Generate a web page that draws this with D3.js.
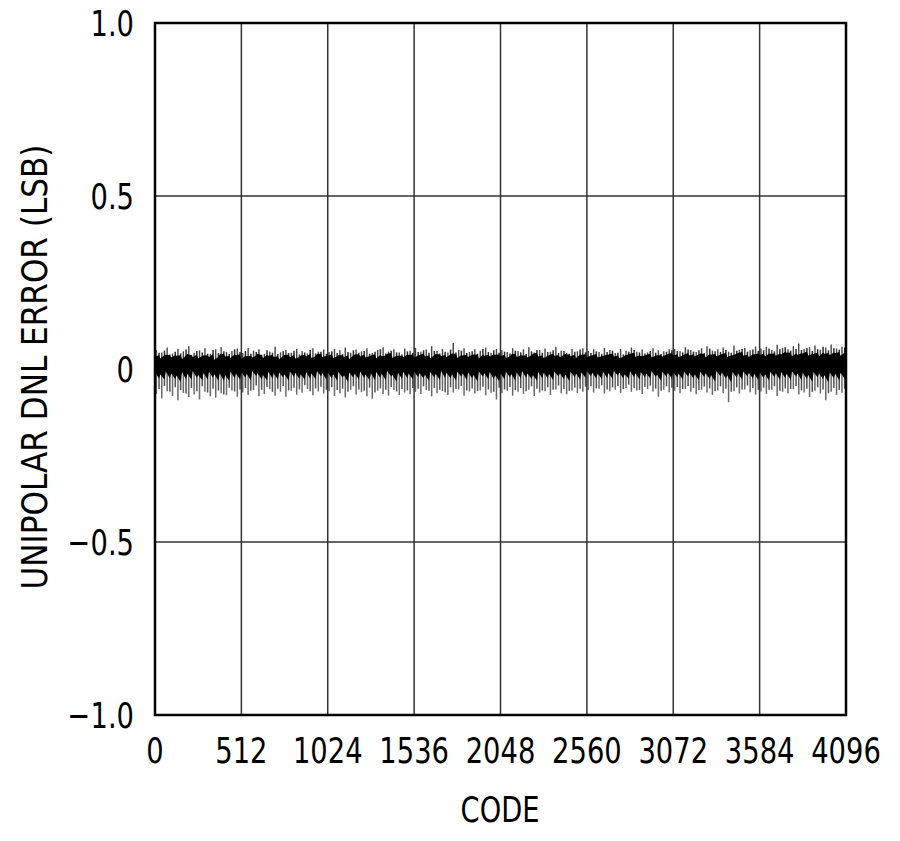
<!DOCTYPE html>
<html><head><meta charset="utf-8">
<script src="https://cdnjs.cloudflare.com/ajax/libs/d3/7.8.5/d3.min.js"></script>
<style>body{margin:0;background:#fff}svg{display:block}</style>
</head><body>
<script>
// X ticks (codes) and Y ticks (LSB)
const xTicks = [0,512,1024,1536,2048,2560,3072,3584,4096];
const yTicks = [-1.0,-0.5,0,0.5,1.0];
const yTickLabels = ["\u22121.0","\u22120.5","0","0.5","1.0"];
const binSize = 32;
// Envelope of DNL error, one value per 32-code bin
const dnlHigh = [
0.055,0.048,0.062,0.045,0.058,0.051,0.066,0.047,0.054,0.060,0.044,0.057,0.063,0.049,0.052,0.059,
0.046,0.061,0.053,0.057,0.044,0.050,0.064,0.048,0.055,0.047,0.058,0.052,0.045,0.060,0.050,0.056,
0.049,0.058,0.054,0.062,0.047,0.056,0.051,0.060,0.046,0.055,0.063,0.050,0.057,0.048,0.059,0.053,
0.061,0.050,0.056,0.066,0.052,0.058,0.048,0.075,0.055,0.060,0.049,0.057,0.053,0.062,0.047,0.058,
0.054,0.049,0.060,0.052,0.057,0.063,0.048,0.055,0.059,0.050,0.064,0.053,0.047,0.058,0.051,0.060,
0.052,0.057,0.049,0.061,0.055,0.046,0.058,0.053,0.062,0.050,0.056,0.048,0.060,0.054,0.051,0.057,
0.058,0.051,0.063,0.055,0.049,0.060,0.066,0.053,0.057,0.062,0.050,0.068,0.056,0.061,0.054,0.065,
0.059,0.064,0.055,0.070,0.061,0.057,0.066,0.074,0.058,0.063,0.068,0.056,0.062,0.071,0.059,0.064];
const dnlLow = [
-0.072,-0.085,-0.064,-0.078,-0.090,-0.069,-0.081,-0.074,-0.088,-0.066,-0.079,-0.083,-0.070,-0.076,-0.062,-0.080,
-0.068,-0.075,-0.061,-0.079,-0.072,-0.058,-0.077,-0.066,-0.080,-0.063,-0.074,-0.069,-0.058,-0.076,-0.065,-0.071,
-0.064,-0.078,-0.070,-0.082,-0.060,-0.074,-0.067,-0.079,-0.086,-0.063,-0.072,-0.077,-0.061,-0.075,-0.068,-0.073,
-0.066,-0.072,-0.061,-0.079,-0.070,-0.064,-0.075,-0.068,-0.059,-0.077,-0.065,-0.071,-0.062,-0.076,-0.069,-0.088,
-0.070,-0.063,-0.077,-0.066,-0.072,-0.060,-0.078,-0.068,-0.064,-0.075,-0.059,-0.070,-0.073,-0.062,-0.069,-0.066,
-0.061,-0.068,-0.057,-0.071,-0.064,-0.060,-0.069,-0.055,-0.066,-0.062,-0.072,-0.058,-0.065,-0.080,-0.060,-0.067,
-0.063,-0.070,-0.058,-0.066,-0.073,-0.060,-0.068,-0.075,-0.062,-0.070,-0.096,-0.064,-0.071,-0.059,-0.067,-0.074,
-0.065,-0.072,-0.060,-0.078,-0.066,-0.070,-0.058,-0.074,-0.068,-0.081,-0.063,-0.071,-0.090,-0.066,-0.075,-0.069];
// secondary spikes, half a bin later
const dnlHigh2 = [
0.047,0.053,0.042,0.050,0.045,0.056,0.041,0.052,0.048,0.044,0.055,0.046,0.051,0.043,0.057,0.049,
0.052,0.044,0.049,0.041,0.054,0.047,0.043,0.051,0.046,0.053,0.042,0.048,0.055,0.045,0.050,0.044,
0.051,0.046,0.043,0.049,0.054,0.047,0.052,0.044,0.050,0.057,0.045,0.053,0.048,0.042,0.051,0.046,
0.049,0.054,0.047,0.052,0.045,0.050,0.056,0.048,0.053,0.046,0.051,0.044,0.058,0.049,0.054,0.047,
0.050,0.045,0.053,0.048,0.043,0.051,0.055,0.047,0.049,0.054,0.046,0.052,0.044,0.050,0.056,0.048,
0.046,0.051,0.044,0.049,0.053,0.047,0.042,0.050,0.055,0.048,0.045,0.052,0.047,0.043,0.050,0.054,
0.052,0.048,0.056,0.050,0.054,0.046,0.059,0.051,0.049,0.055,0.047,0.053,0.058,0.050,0.056,0.052,
0.054,0.059,0.051,0.057,0.063,0.053,0.058,0.055,0.061,0.052,0.057,0.064,0.054,0.060,0.056,0.062];
const dnlLow2 = [
-0.058,-0.049,-0.066,-0.053,-0.061,-0.071,-0.055,-0.064,-0.050,-0.068,-0.057,-0.062,-0.074,-0.054,-0.065,-0.059,
-0.055,-0.063,-0.048,-0.060,-0.052,-0.066,-0.057,-0.049,-0.062,-0.054,-0.059,-0.047,-0.064,-0.056,-0.051,-0.060,
-0.053,-0.061,-0.057,-0.066,-0.050,-0.059,-0.063,-0.054,-0.068,-0.056,-0.060,-0.052,-0.065,-0.058,-0.062,-0.055,
-0.057,-0.050,-0.063,-0.055,-0.060,-0.067,-0.053,-0.058,-0.049,-0.062,-0.056,-0.064,-0.051,-0.059,-0.066,-0.054,
-0.059,-0.052,-0.061,-0.055,-0.064,-0.050,-0.057,-0.062,-0.053,-0.060,-0.048,-0.058,-0.063,-0.054,-0.057,-0.051,
-0.050,-0.056,-0.047,-0.059,-0.053,-0.049,-0.058,-0.045,-0.055,-0.061,-0.052,-0.048,-0.057,-0.063,-0.050,-0.054,
-0.052,-0.058,-0.049,-0.055,-0.061,-0.051,-0.056,-0.064,-0.050,-0.057,-0.066,-0.053,-0.059,-0.048,-0.055,-0.060,
-0.054,-0.060,-0.050,-0.063,-0.056,-0.058,-0.049,-0.062,-0.057,-0.066,-0.053,-0.059,-0.070,-0.055,-0.061,-0.057];
// dense core band edges per bin
const coreTop = [
0.036,0.030,0.041,0.033,0.038,0.028,0.043,0.035,0.031,0.039,0.034,0.027,0.042,0.036,0.032,0.040,
0.029,0.037,0.033,0.044,0.031,0.038,0.035,0.028,0.041,0.034,0.030,0.039,0.036,0.032,0.043,0.035,
0.038,0.031,0.040,0.034,0.029,0.042,0.036,0.033,0.039,0.030,0.037,0.044,0.032,0.038,0.035,0.041,
0.033,0.040,0.036,0.031,0.043,0.037,0.034,0.045,0.032,0.039,0.035,0.042,0.030,0.038,0.036,0.041,
0.037,0.032,0.042,0.035,0.039,0.033,0.044,0.036,0.031,0.040,0.038,0.034,0.043,0.037,0.032,0.041,
0.035,0.040,0.033,0.038,0.042,0.036,0.031,0.039,0.044,0.035,0.037,0.041,0.033,0.040,0.036,0.043,
0.038,0.034,0.042,0.039,0.036,0.045,0.033,0.041,0.037,0.043,0.035,0.040,0.046,0.038,0.034,0.042,
0.040,0.036,0.044,0.038,0.042,0.047,0.037,0.041,0.045,0.039,0.043,0.036,0.044,0.040,0.046,0.038];
const coreBottom = [
-0.010,-0.016,-0.007,-0.013,-0.019,-0.009,-0.014,-0.006,-0.017,-0.011,-0.008,-0.015,-0.012,-0.018,-0.007,-0.013,
-0.009,-0.014,-0.006,-0.012,-0.017,-0.008,-0.013,-0.010,-0.015,-0.007,-0.011,-0.016,-0.009,-0.013,-0.006,-0.012,
-0.011,-0.015,-0.008,-0.018,-0.010,-0.013,-0.007,-0.016,-0.012,-0.009,-0.014,-0.006,-0.017,-0.011,-0.008,-0.013,
-0.007,-0.012,-0.016,-0.009,-0.014,-0.006,-0.011,-0.015,-0.008,-0.013,-0.010,-0.017,-0.007,-0.012,-0.009,-0.019,
-0.012,-0.008,-0.015,-0.010,-0.006,-0.013,-0.017,-0.009,-0.011,-0.014,-0.007,-0.012,-0.016,-0.008,-0.013,-0.010,
-0.006,-0.011,-0.014,-0.008,-0.012,-0.005,-0.010,-0.015,-0.007,-0.012,-0.009,-0.013,-0.006,-0.016,-0.008,-0.011,
-0.009,-0.013,-0.007,-0.011,-0.015,-0.008,-0.012,-0.017,-0.006,-0.010,-0.019,-0.009,-0.013,-0.007,-0.011,-0.014,
-0.010,-0.015,-0.008,-0.012,-0.009,-0.014,-0.007,-0.013,-0.011,-0.017,-0.009,-0.012,-0.018,-0.010,-0.014,-0.011];

const W = 900, H = 841;
const m = {left:155, right:54, top:23, bottom:126};
const svg = d3.select("body").append("svg").attr("width",W).attr("height",H);
const x = d3.scaleLinear().domain([0,4096]).range([m.left, W-m.right]);
const y = d3.scaleLinear().domain([-1,1]).range([H-m.bottom, m.top]);
const font = "'DejaVu Sans Condensed','Liberation Sans Narrow',sans-serif";

// grid
svg.append("g").selectAll("line").data(xTicks.slice(1,-1)).join("line")
  .attr("x1",d=>x(d)).attr("x2",d=>x(d)).attr("y1",y(1)).attr("y2",y(-1))
  .attr("stroke","#333").attr("stroke-width",1.5);
svg.append("g").selectAll("line").data(yTicks.slice(1,-1)).join("line")
  .attr("y1",d=>y(d)).attr("y2",d=>y(d)).attr("x1",x(0)).attr("x2",x(4096))
  .attr("stroke","#333").attr("stroke-width",1.5);

// data
const bins = dnlHigh.map((h,i)=>({c:i*binSize+8, hi:h, lo:dnlLow[i],
  c2:i*binSize+24, hi2:dnlHigh2[i], lo2:dnlLow2[i], top:coreTop[i], bot:coreBottom[i]}));
const g = svg.append("g");
function spikes(cls, cx, vy, color, w, op){
  g.selectAll("line."+cls).data(bins).join("line").attr("class",cls)
    .attr("x1",d=>x(cx(d))).attr("x2",d=>x(cx(d))).attr("y1",d=>y(vy(d))).attr("y2",y(0.012))
    .attr("stroke",color).attr("stroke-width",w).attr("stroke-opacity",op);
}
spikes("lo", d=>d.c, d=>d.lo, "#444", 1.5, 0.8);
spikes("lo2", d=>d.c2, d=>d.lo2, "#333", 1.5, 0.85);
spikes("hi", d=>d.c, d=>d.hi, "#222", 1.4, 0.85);
spikes("hi2", d=>d.c2, d=>d.hi2, "#111", 1.5, 0.9);
const corePts = [];
bins.forEach(b=>{corePts.push({c:b.c-8,top:b.top,bot:b.bot});corePts.push({c:b.c2,top:(b.top+b.hi2)/2*0.95,bot:(b.bot+b.lo2*0.3)});});
corePts.push({c:4096,top:coreTop[127],bot:coreBottom[127]});
g.append("path").datum(corePts)
  .attr("d", d3.area().x(d=>x(d.c)).y0(d=>y(d.bot)).y1(d=>y(d.top)))
  .attr("fill","#000");

// frame
svg.append("rect").attr("x",x(0)).attr("y",y(1)).attr("width",x(4096)-x(0)).attr("height",y(-1)-y(1))
  .attr("fill","none").attr("stroke","#000").attr("stroke-width",2.5);

// text helper: slightly taller, narrower glyphs like the reference
function label(sel, tx, ty, anchor, rot, sx){
  sel.attr("transform",(d,i)=>`translate(${tx(d,i)},${ty(d,i)})${rot?" rotate(-90)":""} scale(${sx||0.95},1.12)`)
    .attr("text-anchor",anchor).style("font-family",font).style("font-size","32px").attr("fill","#000");
}
label(svg.append("g").selectAll("text").data(xTicks).join("text").text(d=>d),
  d=>x(d), ()=>y(-1)+48, "middle");
label(svg.append("g").selectAll("text").data(yTicks).join("text").text((d,i)=>yTickLabels[i]),
  ()=>134, d=>y(d)+13, "end");
label(svg.append("text").datum(0).text("CODE"), ()=>500, ()=>822, "middle");
label(svg.append("text").datum(0).text("UNIPOLAR DNL ERROR (LSB)"), ()=>47, ()=>367, "middle", true, 1.08);
</script>
</body></html>
